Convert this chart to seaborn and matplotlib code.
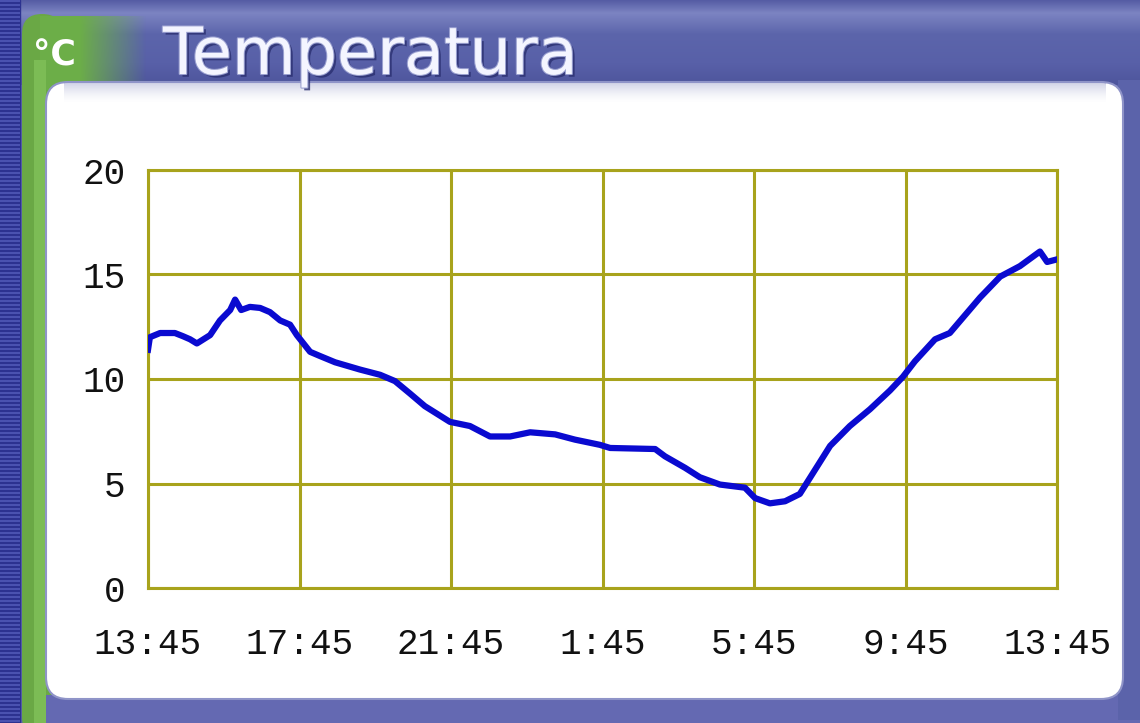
import numpy as np
import pandas as pd
import matplotlib
matplotlib.use("Agg")
import matplotlib.pyplot as plt
import seaborn as sns
from matplotlib.patches import FancyBboxPatch, Rectangle
import matplotlib.patheffects as pe

# ---- data (hours since 13:45, temperature in °C) ----
hours = [0.0, 0.05, 0.32, 0.71, 0.92, 1.11, 1.29, 1.64, 1.90, 2.17, 2.30, 2.46,
         2.69, 2.96, 3.22, 3.49, 3.75, 3.93, 4.28, 4.54, 4.94, 5.60, 6.13, 6.52,
         6.92, 7.31, 7.97, 8.50, 9.03, 9.56, 10.09, 10.75, 11.27, 11.93, 12.20,
         13.39, 13.65, 14.18, 14.57, 15.10, 15.76, 16.03, 16.42, 16.82, 17.21,
         17.61, 18.01, 18.53, 19.06, 19.59, 19.93, 20.25, 20.78, 21.17, 21.57,
         21.97, 22.50, 23.02, 23.55, 23.74, 23.95]
temps = [11.4, 12.0, 12.2, 12.2, 12.05, 11.9, 11.7, 12.1, 12.8, 13.3, 13.8, 13.3,
         13.45, 13.4, 13.2, 12.8, 12.6, 12.1, 11.3, 11.1, 10.8, 10.45, 10.2, 9.9,
         9.3, 8.7, 7.95, 7.75, 7.25, 7.25, 7.45, 7.35, 7.1, 6.85, 6.7,
         6.65, 6.3, 5.75, 5.3, 4.95, 4.8, 4.3, 4.05, 4.15, 4.5,
         5.65, 6.8, 7.75, 8.55, 9.45, 10.1, 10.85, 11.9, 12.2, 13.05,
         13.9, 14.9, 15.4, 16.1, 15.6, 15.7]
x_tick_pos = [0, 4, 8, 12, 16, 20, 24]
x_tick_labels = ["13:45", "17:45", "21:45", "1:45", "5:45", "9:45", "13:45"]
y_ticks = [0, 5, 10, 15, 20]
title = "Temperatura"
unit = "°C"

df = pd.DataFrame({"hours": hours, "temp": temps})

W, H = 1140, 723
fig = plt.figure(figsize=(W / 100, H / 100), dpi=100)
fig.patch.set_facecolor("#5d65aa")

# ---- background widget frame ----
bg = fig.add_axes([0, 0, 1, 1], zorder=0)
bg.set_xlim(0, W)
bg.set_ylim(H, 0)
bg.axis("off")

# top band gradient
grad = np.linspace(0, 1, 100)
top_cols = np.array([[0x55, 0x5c, 0xa4], [0x7c, 0x84, 0xc2], [0x5c, 0x65, 0xab],
                     [0x58, 0x60, 0xa8], [0x4e, 0x55, 0x9c]]) / 255
stops = np.array([0.0, 0.15, 0.4, 0.75, 1.0])
img = np.zeros((100, 1, 3))
for c in range(3):
    img[:, 0, c] = np.interp(grad, stops, top_cols[:, c])
bg.imshow(img, extent=(0, W, 85, 0), aspect="auto", zorder=0)

# left dark striped edge
bg.add_patch(Rectangle((0, 0), 20, H, color="#2c3290", zorder=1))
for yy in range(0, H, 4):
    bg.add_patch(Rectangle((0, yy), 20, 2, color="#4a52b0", zorder=1, lw=0))

# green strip with horizontal fade into the blue band
gimg = np.zeros((1, 120, 4))
gimg[0, :, 0] = 0x6c / 255
gimg[0, :, 1] = 0xae / 255
gimg[0, :, 2] = 0x48 / 255
gimg[0, :, 3] = np.clip(np.linspace(1.6, -0.2, 120), 0, 1)
bg.add_patch(FancyBboxPatch((22, 14), 40, H, boxstyle="round,pad=0,rounding_size=20",
                            facecolor="#6aa845", edgecolor="none", zorder=2))
bg.imshow(gimg, extent=(40, 160, 90, 16), aspect="auto", zorder=2)
bg.add_patch(Rectangle((34, 60), 12, H, color="#7cbc55", zorder=2, lw=0))

# bottom band
bg.add_patch(Rectangle((46, 695), W, 40, color="#6469b2", zorder=2, lw=0))
# right band
bg.add_patch(Rectangle((1118, 80), 30, 640, color="#5b63aa", zorder=2, lw=0))

# white panel
bg.add_patch(FancyBboxPatch((46, 82), 1077, 617, boxstyle="round,pad=0,rounding_size=22",
                            facecolor="white", edgecolor="#8f94c8", lw=1.5, zorder=3))
# fade at top of panel
fade = np.ones((40, 1, 4))
fade[:, 0, 0] = 0x5d / 255
fade[:, 0, 1] = 0x65 / 255
fade[:, 0, 2] = 0xaa / 255
fade[:, 0, 3] = np.linspace(0.45, 0, 40) ** 1.6
bg.imshow(fade, extent=(64, 1106, 104, 83), aspect="auto", zorder=4)

# title and unit
bg.text(163, 56, title, fontsize=47, color="#f4f5ff", ha="left", va="center",
        family="DejaVu Sans", zorder=5,
        path_effects=[pe.withSimplePatchShadow(offset=(2, -2), shadow_rgbFace="#2a2f70", alpha=0.8),
                      pe.withStroke(linewidth=1.5, foreground="#9aa0d0")])
bg.text(33, 56, unit, fontsize=25, color="white", ha="left", va="center",
        fontweight="bold", family="DejaVu Sans", zorder=5)

# ---- main chart ----
ax = fig.add_axes([148 / W, 1 - 588 / H, (1057 - 148) / W, (588 - 170) / H], zorder=5)
ax.set_facecolor("white")
grid_col = "#a8a31c"
sns.lineplot(data=df, x="hours", y="temp", ax=ax, color="#0a0ad0", lw=4.5, zorder=5)
ax.set_xlim(0, 24)
ax.set_ylim(0, 20)
ax.set_xticks(x_tick_pos)
ax.set_xticklabels(x_tick_labels)
ax.set_yticks(y_ticks)
ax.set_yticklabels([str(v) for v in y_ticks])
ax.grid(True, color=grid_col, lw=2.2, zorder=1)
ax.set_axisbelow(True)
for s in ax.spines.values():
    s.set_color(grid_col)
    s.set_linewidth(2.2)
ax.tick_params(length=0, labelsize=26, colors="#111111")
ax.tick_params(axis="x", pad=28)
ax.tick_params(axis="y", pad=16)
for lab in ax.get_xticklabels() + ax.get_yticklabels():
    lab.set_family("Liberation Mono")
ax.set_xlabel("")
ax.set_ylabel("")

fig.savefig("out.png", dpi=100, facecolor=fig.get_facecolor())
